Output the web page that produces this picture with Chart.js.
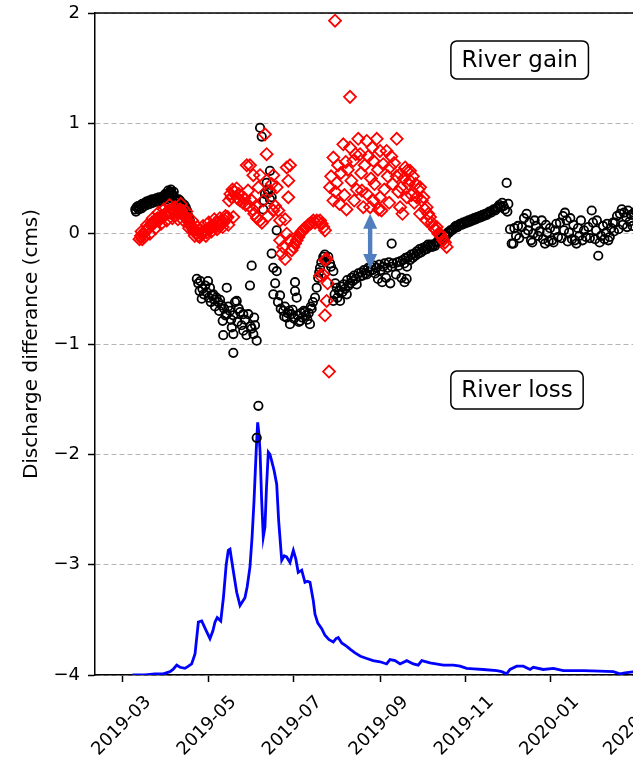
<!DOCTYPE html>
<html><head><meta charset="utf-8">
<script src="https://cdn.jsdelivr.net/npm/chart.js@4.4.1/dist/chart.umd.min.js"></script>
<style>html,body{margin:0;padding:0;background:#fff;overflow:hidden;width:633px;height:762px}canvas{display:block}</style>
</head><body>
<canvas id="c" width="720" height="762" style="width:720px;height:762px"></canvas>
<script>
// day numbers counted from 2019-01-01 (day 0)
const tickDays = [59, 120, 181, 243, 304, 365, 425];
const tickLabels = ['2019-03', '2019-05', '2019-07', '2019-09', '2019-11', '2020-01', '2020-03'];
const yTickValues = [-4, -3, -2, -1, 0, 1, 2];

// black open circles: [day, discharge difference]
const observedDiff = [
[68,0.22],[69,0.24],[70,0.25],[71,0.24],[72,0.26],[73,0.27],[74,0.27],[75,0.28],[76,0.29],[77,0.29],[78,0.30],[79,0.30],[80,0.31],[81,0.30],[82,0.31],[83,0.32],[84,0.31],[85,0.33],[86,0.32],[87,0.33],[88,0.34],[89,0.33],[90,0.34],[91,0.36],[92,0.37],[93,0.38],[94,0.37],[95,0.35],[96,0.33],[97,0.31],[98,0.30],[99,0.31],[100,0.30],[101,0.28],[102,0.27],[103,0.26],[104,0.24],[105,0.21],[106,0.16],[107,0.12],[108,0.06],[109,0.03],[110,0.02],
[68.5,0.20],[70.5,0.22],[72.5,0.23],[74.5,0.25],[76.5,0.26],[78.5,0.27],[80.5,0.28],[82.5,0.29],[84.5,0.29],[86.5,0.30],[88.5,0.31],[89.5,0.36],[90.5,0.31],[91.5,0.39],[92.5,0.33],[93.5,0.40],[94.5,0.34],[95.5,0.38],[96.5,0.30],[98.5,0.27],[100.5,0.27],[102.5,0.24],[104.5,0.21],
[112,-0.41],[113,-0.45],[114,-0.52],[114.5,-0.43],[115.5,-0.59],[116,-0.50],[117,-0.55],[118,-0.47],[119,-0.53],[120,-0.43],[120.5,-0.58],[121.4,-0.49],[122,-0.62],[123,-0.56],[123.8,-0.55],[124.5,-0.60],[125,-0.66],[126,-0.58],[127.3,-0.62],[128,-0.70],[128.6,-0.60],[129.8,-0.65],[130.5,-0.79],[130.9,-0.92],[131.5,-0.68],[132.5,-0.74],[133.4,-0.49],[133.4,-0.73],[134.5,-0.66],[135.7,-0.70],[136.5,-0.78],[137,-0.85],[138.1,-0.74],[138.1,-0.91],[138.1,-1.08],[139.3,-0.62],[140.5,-0.61],[141,-0.80],[142,-0.68],[142.9,-0.71],[144,-0.83],[145.2,-0.88],[145.2,-0.73],[146.5,-0.78],[147.5,-0.92],[148.8,-0.73],[150,-0.47],[150.5,-0.84],[151.2,-0.29],[151.2,-0.86],[152.4,-0.91],[153,-0.76],[153.6,-0.83],[154.8,-0.97],[154.8,-1.85],[156,-1.56],
[157.2,0.96],[158.4,0.88],[159.5,0.22],[160,0.30],[160.7,0.36],[161.9,0.46],[162.5,0.40],[163.1,0.37],[164.3,0.57],[164.3,0.31],[165.5,0.33],[165.5,-0.18],[166.7,-0.31],[166.7,-0.55],[168,-0.45],[169.1,0.03],[169.1,-0.34],[170,-0.62],[171.5,-0.56],[172,-0.68],[173.8,-0.70],[174.5,-0.75],[175,-0.66],[176.2,-0.76],[177,-0.72],[178,-0.70],[178.6,-0.82],[179.5,-0.73],[180.5,-0.69],[181.5,-0.77],[182.2,-0.44],[182.2,-0.52],[183.4,-0.58],[184,-0.74],[185,-0.80],[185.8,-0.79],[186.5,-0.72],[187.5,-0.76],[188.5,-0.70],[189.3,-0.71],[190,-0.74],[191,-0.78],[192,-0.72],[192.9,-0.82],[193.5,-0.66],[194.1,-0.68],[195,-0.62],[196.5,-0.58],[197.7,-0.49],[198.8,-0.40],[199.5,-0.35],[200.1,-0.31],[201,-0.26],[202.4,-0.21],[203.5,-0.19],[204.5,-0.25],[206,-0.21],[207.2,-0.27],[208,-0.30],[209.6,-0.34],[209.6,-0.61],
[210.5,-0.55],[211,-0.45],[212,-0.49],[212.5,-0.58],[213.5,-0.52],[214.4,-0.61],[215,-0.48],[216,-0.53],[217,-0.46],[218,-0.50],[219.2,-0.55],[219.5,-0.42],[220.5,-0.47],[221.5,-0.45],[222.5,-0.40],[223.5,-0.43],[224.5,-0.38],[225.5,-0.41],[226.3,-0.46],[227.5,-0.36],[228.5,-0.39],[229.5,-0.35],[230.5,-0.38],[231.5,-0.33],[232.5,-0.36],[233.5,-0.37],[234.5,-0.31],[235.5,-0.34],[236.5,-0.30],[237.5,-0.33],[238.5,-0.29],[239.5,-0.36],[240.5,-0.31],[241.5,-0.41],[242.5,-0.28],[243.5,-0.33],[244.5,-0.44],[245.3,-0.30],[246.3,-0.27],[247.3,-0.40],[248.3,-0.31],[249.3,-0.26],[250.3,-0.45],[251.3,-0.09],[251.5,-0.30],[252.3,-0.27],[254.3,-0.37],[255.3,-0.26],[256.3,-0.29],[257.3,-0.25],[258.3,-0.40],[259.3,-0.24],[260.3,-0.27],[260.5,-0.44],[261.3,-0.22],[262,-0.41],[262.3,-0.30],[263.3,-0.21],[264.3,-0.24],[265.3,-0.19],[266.3,-0.22],[267.3,-0.18],[268.3,-0.20],[269.3,-0.16],[270.3,-0.18],[271.3,-0.14],[272.3,-0.17],[273.3,-0.13],[274.3,-0.15],[275.3,-0.12],[276.3,-0.14],[277.3,-0.10],[278.3,-0.12],[279.3,-0.10],[280.3,-0.12],[281.3,-0.10],[282.3,-0.11],[283.3,-0.08],[284.3,-0.07],[285.3,-0.05],[286.3,-0.06],[287.3,-0.03],[288.3,-0.05],[289.3,-0.01],[290.3,-0.02],[291.3,0.01],[292.3,0.01],[293.3,0.03],[294.3,0.03],[295.3,0.04],[296.3,0.06],[297.3,0.07],[298.3,0.06],[299.3,0.08],[300.3,0.09],[301.3,0.08],[302.3,0.10],[303.3,0.09],[304.3,0.11],[305.3,0.10],[306.3,0.12],[307.3,0.11],[308.3,0.13],[309.3,0.12],[310.3,0.14],[311.3,0.13],[312.3,0.15],[313.3,0.14],[314.3,0.16],[315.3,0.15],[316.3,0.17],[317.3,0.16],[318.3,0.18],[319.3,0.17],[320.3,0.19],[321.3,0.20],[322.3,0.19],[323.3,0.21],[324.3,0.22],[325.3,0.21],[326.3,0.23],[327.3,0.24],[328.3,0.26],[329.3,0.24],[330.3,0.28],[331.3,0.25],[332.3,0.22],[333.5,0.46],[334,0.20],
[334.7,0.27],[335.9,0.04],[337.1,-0.09],[338.3,-0.09],[339,0.05],[340.2,-0.02],[341.6,0.07],[342.5,-0.04],[344.3,0.06],[345.9,0.14],[346.8,0.00],[347.8,0.18],[348.8,0.03],[349.8,0.10],[350.9,-0.06],[351.8,-0.08],[352.6,0.00],[353.5,0.12],[354.5,0.07],[355.9,-0.02],[357,0.02],[358.6,0.12],[359.5,-0.05],[360.9,-0.09],[361.6,0.08],[362.4,0.01],[363.5,-0.07],[364.5,0.05],[365.9,-0.06],[367,-0.08],[368.1,0.03],[369,0.09],[370.2,-0.03],[371.6,0.10],[372.7,-0.04],[373.8,0.16],[374.5,0.03],[375.2,0.19],[376.4,0.12],[377.2,-0.07],[378.1,0.01],[379,0.14],[380.2,-0.05],[381.2,0.08],[382.3,-0.06],[383.4,-0.09],[384.5,0.05],[385.5,-0.02],[386.6,0.12],[387.7,-0.06],[388.8,0.03],[390.2,-0.03],[391.9,0.06],[393,-0.04],[394.3,0.21],[395.2,0.10],[396.7,-0.05],[397.4,0.03],[398,0.12],[399,-0.20],[400,-0.08],[401,-0.02],[402.4,0.07],[403.4,-0.05],[404.5,0.01],[405.3,0.09],[406.2,-0.06],[407.2,-0.03],[408.2,0.05],[409.5,0.10],[410.2,0.02],[411,0.10],[412.4,0.16],[413.5,0.04],[414.5,0.18],[415.8,0.22],[416.6,0.08],[417.4,0.19],[418.9,0.15],[419.6,0.06],[420.3,0.21],[421.4,0.11],[422.4,0.17],[423.5,0.07],[424.6,0.19],[426,0.20],[428,0.15],[430,0.22]
];

// red open diamonds: [day, discharge difference]
const modelledDiff = [
[71,-0.05],[72,-0.02],[73,-0.05],[74,0.0],[75,0.02],[76,0.03],[77,0.05],[78,0.06],[79,0.08],[80,0.10],[81,0.09],[82,0.12],[83,0.13],[84,0.14],[85,0.12],[86,0.15],[87,0.16],[88,0.15],[89,0.17],[90,0.18],[91,0.20],[92,0.21],[93,0.19],[94,0.22],[95,0.20],[96,0.19],[97,0.17],[98,0.19],[99,0.21],[100,0.22],[101,0.21],[102,0.18],[103,0.17],[104,0.15],[105,0.13],[106,0.11],[107,0.08],[108,0.07],[109,0.05],[110,0.03],[111,0.01],[112,0.0],[113,-0.02],[114,-0.03],[115,0.0],[116,0.02],[117,0.01],[118,0.03],[119,0.01],[120,0.04],[121,0.05],[122,0.07],[123,0.06],[124,0.08],[125,0.07],[126,0.09],[127,0.10],[128,0.07],[129,0.09],[130,0.11],[131,0.10],[132,0.12],[133,0.14],[134,0.15],
[72.5,0.02],[74.5,-0.03],[76.5,0.08],[78.5,0.0],[80.5,0.14],[82.5,0.05],[84.5,0.19],[86.5,0.09],[88.5,0.22],[90.5,0.12],[92.5,0.26],[94.5,0.14],[96.5,0.24],[98.5,0.13],[100.5,0.27],[102.5,0.12],[104.5,0.20],[106.5,0.05],[108.5,0.12],[110.5,-0.02],[112.5,0.06],[114.5,0.03],[116.5,0.07],[118.5,-0.02],[120.5,0.10],[122.5,0.02],[124.5,0.13],[126.5,0.04],[128.5,0.14],[130.5,0.06],[132.5,0.16],[134.5,0.08],
[135,0.30],[136,0.36],[136.9,0.33],[137.5,0.40],[138.1,0.15],[139,0.38],[140.5,0.41],[141,0.32],[142,0.36],[142.9,0.30],[144,0.34],[145,0.28],[146,0.32],[147,0.26],[147.7,0.62],[148.6,0.39],[149.5,0.25],[150,0.62],[151.2,0.30],[152,0.22],[152.4,0.53],[153,0.18],[154.3,0.25],[155,0.14],[156,0.42],[157.2,0.53],[157.2,0.12],[158.5,0.10],[159.5,0.30],[160.7,0.90],[161.9,0.72],[162.9,0.16],[164.3,0.39],[165.5,0.45],[166.7,0.53],[166.7,0.21],[168,0.25],[169.1,0.42],[170.3,0.21],[171.5,0.12],[171.5,-0.06],[172.7,-0.18],[173.8,-0.12],[175.1,-0.23],[175.1,0.13],[176.3,0.60],[176.3,0.0],[177.4,0.48],[177.4,0.33],[178.6,0.62],[178.6,-0.06],[179.8,-0.15],[181,-0.12],[182.2,-0.09],[183.4,-0.06],[184.6,-0.03],[185.8,0.0],[187,0.02],[187.9,0.03],[189,0.05],[190.6,0.06],[191.7,0.08],[192.9,0.09],[194,0.10],[195.3,0.12],[196.5,0.10],[197.7,0.12],[198.8,0.11],[200.1,0.12],[200.1,-0.38],[201.3,0.09],[202.4,-0.37],[202.4,0.06],[203.6,0.03],[203.6,-0.24],[203.6,-0.74],[204.8,-0.61],[204.8,-0.23],[205.5,-0.45],[206.5,-1.25],
[207.2,0.42],[208,0.52],[209.6,0.69],[209.6,0.30],[210.8,1.93],[211,0.38],[212,0.46],[213,0.62],[214,0.27],[215,0.55],[216.7,0.81],[217.5,0.35],[218.5,0.65],[219,0.22],[220,0.58],[221.5,0.78],[221.5,1.24],[222.5,0.48],[223.9,0.66],[224.5,0.30],[225.5,0.72],[226.3,0.40],[227.4,0.86],[228.7,0.72],[229.5,0.55],[230,0.39],[231,0.24],[232,0.62],[233.5,0.84],[233.5,0.36],[234.5,0.70],[235.9,0.24],[236.5,0.50],[237.5,0.78],[238.2,0.66],[238.2,0.30],[239,0.45],[240.6,0.86],[241.5,0.58],[242,0.22],[243,0.75],[243,0.33],[244,0.21],[245.3,0.63],[246,0.40],[247.7,0.75],[248.5,0.52],[249.5,0.28],[250.1,0.60],[251,0.70],[252,0.45],[253,0.64],[254.9,0.86],[254.9,0.52],[256,0.38],[257.3,0.54],[257.3,0.24],[258,0.42],[259,0.18],[260,0.50],[261,0.60],[262.1,0.33],[262.1,0.57],[263.3,0.45],[264.4,0.57],[264.4,0.48],[265.5,0.35],[266.5,0.52],[267.5,0.28],[268.5,0.45],[269.2,0.33],[270.4,0.40],[271.6,0.42],[271.6,0.18],[272.8,0.30],[274,0.33],[275,0.22],[276.3,0.24],[276.3,0.12],[277.5,0.18],[278.7,0.15],[279.9,0.10],[281.1,0.06],[282.3,0.04],[283.5,0.06],[284.7,0.0],[285.9,0.0],[287,-0.03],[288.2,-0.06],[289.4,-0.08],[290.6,-0.12]
];

// blue line (scaled river discharge): [day, value]
const flowLine = [
[66,-4.0],[75,-4.0],[82,-3.99],[88,-3.99],[92.8,-3.97],[95,-3.95],[97.6,-3.91],[100,-3.93],[103.5,-3.94],[106,-3.92],[108.3,-3.90],[110.7,-3.81],[113.1,-3.52],[115.5,-3.51],[118,-3.58],[121.4,-3.67],[123.5,-3.60],[125,-3.52],[126.6,-3.48],[129.1,-3.51],[131,-3.30],[133,-3.00],[134.5,-2.87],[135.7,-2.86],[138,-3.05],[140.5,-3.25],[142.9,-3.37],[146.4,-3.30],[148,-3.20],[150,-3.02],[151.5,-2.75],[152.9,-2.42],[154.5,-1.95],[155.5,-1.71],[156.3,-1.80],[157.2,-1.97],[158.3,-2.40],[159.5,-2.75],[160.7,-2.66],[161.8,-2.30],[163.1,-1.98],[164.3,-2.00],[165.5,-2.06],[167.3,-2.15],[169.1,-2.27],[170.5,-2.60],[172.7,-2.96],[174.5,-2.92],[176.2,-2.93],[178.6,-2.98],[181,-2.87],[182.8,-2.95],[184.5,-3.07],[187,-3.05],[189.3,-3.16],[191,-3.15],[192.9,-3.16],[195.3,-3.33],[196.5,-3.45],[198.5,-3.53],[201.3,-3.58],[203.6,-3.64],[206.5,-3.68],[209.6,-3.70],[211.5,-3.67],[213.1,-3.66],[215.6,-3.71],[219.2,-3.74],[222,-3.77],[225.1,-3.80],[229,-3.83],[233.5,-3.85],[238,-3.87],[243,-3.88],[247.7,-3.90],[250.1,-3.86],[253.7,-3.87],[257.3,-3.90],[262.1,-3.87],[266.8,-3.90],[270.3,-3.91],[272.8,-3.87],[278.7,-3.89],[288.2,-3.91],[295.4,-3.91],[300.2,-3.92],[304.9,-3.94],[310,-3.945],[316.8,-3.95],[326.4,-3.96],[330,-3.97],[333.5,-3.99],[335.9,-3.95],[340.7,-3.92],[345.4,-3.92],[350.2,-3.95],[352.6,-3.93],[359.7,-3.95],[366.9,-3.94],[374,-3.96],[388.3,-3.96],[400,-3.965],[409.8,-3.97],[414.5,-3.99],[418.1,-3.98],[425,-3.97],[440,-3.97],[460,-3.97]
];

const labels = [
  {text: 'River gain', day: 342.8, value: 1.575},
  {text: 'River loss', day: 340.9, value: -1.418}
];
const arrowSpec = {day: 235.9, top: 0.18, bottom: -0.32};

Chart.defaults.font.family = "'DejaVu Sans', sans-serif";
Chart.defaults.color = '#000';

const toXY = pts => pts.map(p => ({x: p[0], y: p[1]}));

function roundedRect(ctx, x, y, w, h, r) {
  ctx.beginPath();
  ctx.moveTo(x + r, y);
  ctx.lineTo(x + w - r, y);
  ctx.arcTo(x + w, y, x + w, y + r, r);
  ctx.lineTo(x + w, y + h - r);
  ctx.arcTo(x + w, y + h, x + w - r, y + h, r);
  ctx.lineTo(x + r, y + h);
  ctx.arcTo(x, y + h, x, y + h - r, r);
  ctx.lineTo(x, y + r);
  ctx.arcTo(x, y, x + r, y, r);
  ctx.closePath();
}

const overlay = {
  id: 'overlay',
  afterDatasetsDraw(chart) {
    const {ctx, scales: {x, y}} = chart;
    ctx.save();
    // double arrow
    const ax = x.getPixelForValue(arrowSpec.day);
    const y1 = y.getPixelForValue(arrowSpec.top);
    const y2 = y.getPixelForValue(arrowSpec.bottom);
    const hl = 15, hw = 7, sw = 2.2;
    ctx.fillStyle = '#4f7fbf';
    ctx.fillRect(ax - sw, y1 + hl - 1, 2 * sw, (y2 - y1) - 2 * hl + 2);
    ctx.beginPath();
    ctx.moveTo(ax, y1); ctx.lineTo(ax - hw, y1 + hl); ctx.lineTo(ax + hw, y1 + hl); ctx.closePath(); ctx.fill();
    ctx.beginPath();
    ctx.moveTo(ax, y2); ctx.lineTo(ax - hw, y2 - hl); ctx.lineTo(ax + hw, y2 - hl); ctx.closePath(); ctx.fill();
    // text boxes
    ctx.font = "23px 'DejaVu Sans'";
    ctx.textAlign = 'center';
    ctx.textBaseline = 'middle';
    labels.forEach(l => {
      const cx = x.getPixelForValue(l.day), cy = y.getPixelForValue(l.value);
      const w = ctx.measureText(l.text).width + 21, h = 38;
      roundedRect(ctx, cx - w / 2, cy - h / 2, w, h, 6);
      ctx.fillStyle = '#fff'; ctx.fill();
      ctx.strokeStyle = '#000'; ctx.lineWidth = 1.5; ctx.stroke();
      ctx.fillStyle = '#000';
      ctx.fillText(l.text, cx, cy + 1);
    });
    ctx.restore();
  },
  afterDraw(chart) {
    const {ctx, chartArea, scales: {x}} = chart;
    ctx.save();
    // top spine
    ctx.strokeStyle = '#000'; ctx.lineWidth = 1.5;
    ctx.beginPath(); ctx.moveTo(chartArea.left, chartArea.top); ctx.lineTo(chartArea.right, chartArea.top); ctx.stroke();
    // rotated, centred x tick labels
    ctx.font = "18px 'DejaVu Sans'";
    ctx.fillStyle = '#000';
    ctx.textAlign = 'center';
    ctx.textBaseline = 'middle';
    tickDays.forEach((d, i) => {
      const px = x.getPixelForValue(d);
      ctx.save();
      ctx.translate(px - 1, chartArea.bottom + 51);
      ctx.rotate(-Math.PI / 4);
      ctx.fillText(tickLabels[i], 0, 0);
      ctx.restore();
    });
    ctx.restore();
  }
};

new Chart(document.getElementById('c'), {
  type: 'scatter',
  data: {
    datasets: [
      {
        label: 'modelled', data: toXY(modelledDiff), order: 0,
        pointStyle: 'rectRot', radius: 6, borderWidth: 1.8,
        borderColor: '#ff0000', backgroundColor: 'rgba(0,0,0,0)'
      },
      {
        label: 'observed', data: toXY(observedDiff), order: 1,
        pointStyle: 'circle', radius: 4.2, borderWidth: 1.8,
        borderColor: '#000000', backgroundColor: 'rgba(0,0,0,0)'
      },
      {
        label: 'flow', data: toXY(flowLine), order: 2, showLine: true,
        pointRadius: 0, borderColor: '#0000ff', borderWidth: 2.8, tension: 0,
        backgroundColor: '#0000ff'
      }
    ]
  },
  options: {
    responsive: false,
    animation: false,
    devicePixelRatio: 1,
    layout: {padding: {left: 0, top: 13, right: 22, bottom: 0}},
    plugins: {legend: {display: false}, tooltip: {enabled: false}},
    scales: {
      x: {
        type: 'linear', min: 39.2, max: 470.3,
        afterBuildTicks: s => { s.ticks = tickDays.map(v => ({value: v})); },
        afterFit: s => { s.height = 87; s.paddingLeft = 0; s.paddingRight = 0; },
        ticks: {display: false},
        grid: {display: true, drawOnChartArea: false, drawTicks: true, tickLength: 7, tickColor: '#000', tickWidth: 1.5},
        border: {display: true, color: '#000', width: 1.5}
      },
      y: {
        type: 'linear', min: -4, max: 2,
        afterBuildTicks: s => { s.ticks = yTickValues.map(v => ({value: v})); },
        afterFit: s => { s.width = 95; s.paddingTop = 0; s.paddingBottom = 0; },
        ticks: {
          font: {size: 18}, color: '#000', padding: 8,
          callback: v => (v < 0 ? '\u2212' + Math.abs(v) : String(v))
        },
        grid: {color: '#b4b4b4', lineWidth: 1, drawTicks: true, tickLength: 7, tickColor: '#000', tickWidth: 1.5, tickBorderDash: []},
        border: {display: true, color: '#000', width: 1.5, dash: [5, 3]},
        title: {display: true, text: 'Discharge differance (cms)', font: {size: 20}, color: '#000', padding: {top: 20, bottom: 0}}
      }
    }
  },
  plugins: [overlay]
});
</script>
</body></html>
